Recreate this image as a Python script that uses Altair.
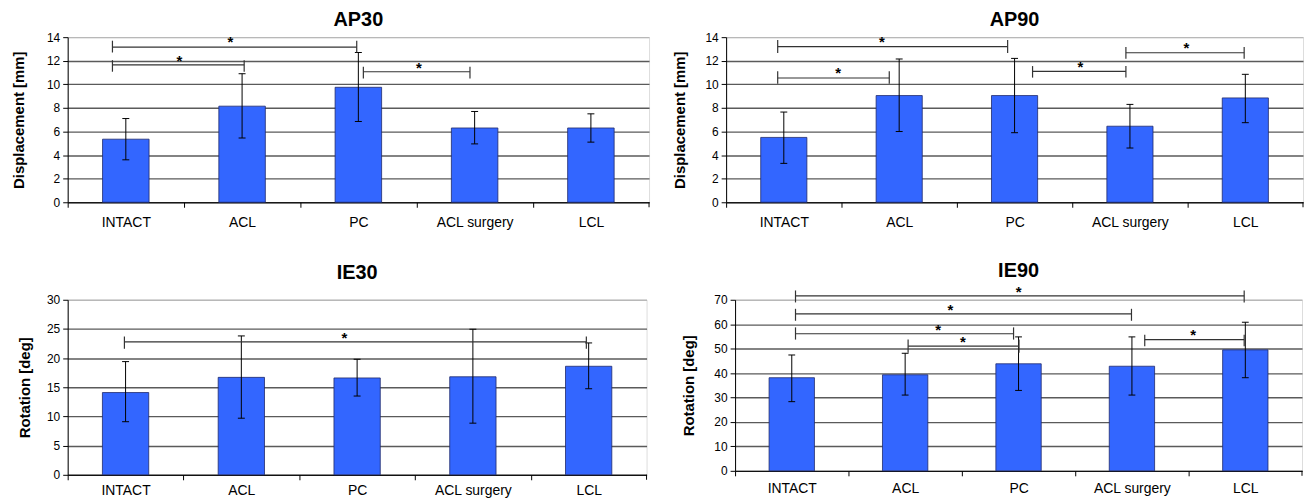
import altair as alt
import pandas as pd

FONT = "Liberation Sans"

categories = ["INTACT", "ACL", "PC", "ACL surgery", "LCL"]

# ---- bar values and error bar ends ----
ap30_mean = [5.35, 8.15, 9.75, 6.3, 6.3]
ap30_lo = [3.6, 5.45, 6.85, 4.95, 5.1]
ap30_hi = [7.1, 10.9, 12.7, 7.7, 7.5]

ap90_mean = [5.5, 9.05, 9.05, 6.45, 8.85]
ap90_lo = [3.3, 6.0, 5.9, 4.6, 6.75]
ap90_hi = [7.65, 12.15, 12.2, 8.3, 10.85]

ie30_mean = [14.1, 16.7, 16.6, 16.8, 18.6]
ie30_lo = [9.1, 9.7, 13.5, 8.85, 14.75]
ie30_hi = [19.4, 23.8, 19.8, 24.95, 22.6]

ie90_mean = [38.1, 39.3, 43.8, 42.8, 49.5]
ie90_lo = [28.3, 31.0, 32.9, 31.0, 38.1]
ie90_hi = [47.4, 48.1, 54.8, 54.8, 60.8]

# ---- significance brackets (x in category units, INTACT = 0) ----
ap30_sig_x1 = [-0.115, -0.115, 2.043]
ap30_sig_x2 = [1.986, 1.018, 2.96]
ap30_sig_level = [13.15, 11.65, 11.07]
ap30_sig_top = [13.7, 12.05, 11.5]
ap30_sig_bot = [12.7, 11.07, 10.5]
ap30_star_x = [0.90, 0.46, 2.52]
ap30_star_y = [13.8, 12.2, 11.65]

ap90_sig_x1 = [-0.053, -0.053, 2.156, 2.965]
ap90_sig_x2 = [1.94, 0.914, 2.965, 3.99]
ap90_sig_level = [13.2, 10.54, 11.1, 12.68]
ap90_sig_top = [13.77, 11.1, 11.55, 13.16]
ap90_sig_bot = [12.65, 10.06, 10.57, 12.17]
ap90_star_x = [0.85, 0.47, 2.57, 3.49]
ap90_star_y = [13.8, 11.2, 11.75, 13.35]

ie30_sig_x1 = [-0.01]
ie30_sig_x2 = [3.98]
ie30_sig_level = [22.77]
ie30_sig_top = [23.7]
ie30_sig_bot = [21.6]
ie30_star_x = [1.89]
ie30_star_y = [24.0]

ie90_sig_x1 = [0.033, 0.033, 0.033, 1.026, 3.113]
ie90_sig_x2 = [3.99, 2.996, 1.956, 2.004, 3.99]
ie90_sig_level = [71.6, 64.2, 56.1, 51.0, 53.7]
ie90_sig_top = [73.8, 66.3, 58.7, 53.7, 55.7]
ie90_sig_bot = [68.9, 61.4, 53.7, 48.3, 51.0]
ie90_star_x = [2.0, 1.4, 1.29, 1.51, 3.54]
ie90_star_y = [74.5, 67.0, 58.9, 54.0, 56.8]

BAR_FILL = "#3366ff"
BAR_STROKE = "#1f2a6b"
GRID = "#5a5a5a"
BORDER = "#b8b8b8"


def panel(title, ytitle, mean, lo, hi, ymax, ystep, w, h,
          sx1, sx2, slev, stop, sbot, starx, stary, title_offset, label_pad, title_pad):
    n = len(categories)
    bars = pd.DataFrame({"idx": list(range(n)), "cat": categories,
                         "mean": mean, "lo": lo, "hi": hi})
    sig = pd.DataFrame({"x1": sx1, "x2": sx2, "lev": slev, "top": stop,
                        "bot": sbot, "sx": starx, "sy": stary})

    xscale = alt.Scale(domain=[-0.5, n - 0.5], nice=False, zero=False)
    yscale = alt.Scale(domain=[0, ymax], nice=False)
    names = "[" + ",".join("'%s'" % c for c in categories) + "]"
    xaxis = alt.Axis(values=[i - 0.5 for i in range(n)],
                     labelExpr="%s[round(datum.value + 0.5)]" % names,
                     labelOffset=w / n / 2, labelFlush=False,
                     tickSize=5, tickColor="#000", domainColor="#000",
                     labelFont=FONT, labelFontSize=14, labelColor="#000",
                     labelPadding=label_pad, grid=False, title=None, labelOverlap=False)
    yaxis = alt.Axis(values=list(range(0, ymax + 1, ystep)), grid=True,
                     gridColor=alt.condition("datum.value == %d" % ymax, alt.value(BORDER), alt.value(GRID)),
                     gridWidth=1.4, tickSize=5, tickColor="#000", domainColor="#000",
                     labelFont=FONT, labelFontSize=12, labelColor="#000", labelPadding=3,
                     title=ytitle, titleFont=FONT, titleFontSize=15, titleFontWeight="bold",
                     titleColor="#000", titlePadding=title_pad)

    def X(field):
        return alt.X(field, type="quantitative", scale=xscale, axis=xaxis, title=None)

    def Y(field):
        return alt.Y(field, type="quantitative", scale=yscale, axis=yaxis, title=ytitle)

    base = alt.Chart(bars)
    bar_layer = base.transform_calculate(l="datum.idx - 0.2", r="datum.idx + 0.2").mark_rect(
        fill=BAR_FILL, stroke=BAR_STROKE, strokeWidth=0.8
    ).encode(x=X("l"), x2="r", y=Y("mean"), y2=alt.datum(0))
    err = base.mark_rule(color="#000", strokeWidth=1).encode(x=X("idx"), y=Y("lo"), y2="hi")
    caps = base.transform_fold(["lo", "hi"], as_=["end", "val"]).transform_calculate(
        l="datum.idx - 0.03", r="datum.idx + 0.03"
    ).mark_rule(color="#000", strokeWidth=1).encode(x=X("l"), x2="r", y=Y("val"))
    # closing tick at the right end of the category axis
    end_tick = base.transform_filter("datum.idx == %d" % (n - 1)).transform_calculate(
        e="datum.idx + 0.5"
    ).mark_rule(color="#000", strokeWidth=1).encode(x=X("e"), y=alt.value(h), y2=alt.value(h + 5))

    sbase = alt.Chart(sig)
    hline = sbase.mark_rule(color="#333", strokeWidth=1.2).encode(x=X("x1"), x2="x2", y=Y("lev"))
    lv = sbase.mark_rule(color="#333", strokeWidth=1.2).encode(x=X("x1"), y=Y("top"), y2="bot")
    rv = sbase.mark_rule(color="#333", strokeWidth=1.2).encode(x=X("x2"), y=Y("top"), y2="bot")
    stars = sbase.mark_text(text="*", font=FONT, fontSize=15, fontWeight="bold", color="#000",
                            baseline="middle", dy=3).encode(x=X("sx"), y=Y("sy"))

    return alt.layer(bar_layer, err, caps, end_tick, hline, lv, rv, stars).properties(
        width=w, height=h,
        title=alt.TitleParams(title, font=FONT, fontSize=20, fontWeight="bold", color="#000",
                              anchor="middle", frame="group", offset=title_offset),
    )


ap30 = panel("AP30", "Displacement [mm]", ap30_mean, ap30_lo, ap30_hi, 14, 2, 584.5, 166,
             ap30_sig_x1, ap30_sig_x2, ap30_sig_level, ap30_sig_top, ap30_sig_bot, ap30_star_x, ap30_star_y,
             title_offset=1.5, label_pad=8, title_pad=20.5)
ap90 = panel("AP90", "Displacement [mm]", ap90_mean, ap90_lo, ap90_hi, 14, 2, 580, 166,
             ap90_sig_x1, ap90_sig_x2, ap90_sig_level, ap90_sig_top, ap90_sig_bot, ap90_star_x, ap90_star_y,
             title_offset=1.5, label_pad=8, title_pad=17)
ie30 = panel("IE30", "Rotation [deg]", ie30_mean, ie30_lo, ie30_hi, 30, 5, 582, 176,
             ie30_sig_x1, ie30_sig_x2, ie30_sig_level, ie30_sig_top, ie30_sig_bot, ie30_star_x, ie30_star_y,
             title_offset=11, label_pad=4, title_pad=14.5)
ie90 = panel("IE90", "Rotation [deg]", ie90_mean, ie90_lo, ie90_hi, 70, 10, 570, 172,
             ie90_sig_x1, ie90_sig_x2, ie90_sig_level, ie90_sig_top, ie90_sig_bot, ie90_star_x, ie90_star_y,
             title_offset=3.5, label_pad=6, title_pad=17)

row1 = alt.hconcat(ap30, ap90, spacing=22)
row2 = alt.hconcat(ie30, ie90, spacing=34)
chart = alt.vconcat(row1, row2, spacing=30).properties(
    padding={"left": 2, "top": 0, "right": 0, "bottom": 0}
).configure_view(stroke=BORDER, strokeWidth=1).configure(background="white")

chart.save("out.html", embed_options={"renderer": "svg", "actions": False})
